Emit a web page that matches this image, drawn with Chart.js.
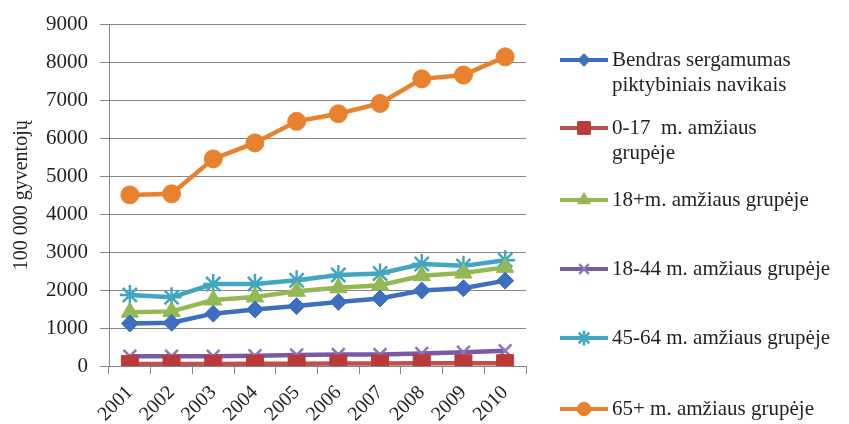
<!DOCTYPE html>
<html>
<head>
<meta charset="utf-8">
<script src="https://cdn.jsdelivr.net/npm/chart.js@4.4.1/dist/chart.umd.min.js"></script>
<style>
html,body{margin:0;padding:0;background:#fff;}
#wrap{width:849px;height:424px;position:relative;}
</style>
</head>
<body>
<div id="wrap"><canvas id="c" width="849" height="424"></canvas></div>
<script>
const years = ['2001','2002','2003','2004','2005','2006','2007','2008','2009','2010'];
const yTicks = [0,1000,2000,3000,4000,5000,6000,7000,8000,9000];
const total = [1120,1140,1380,1490,1580,1690,1780,1990,2050,2250];
const age0_17 = [55,55,55,60,60,65,65,70,70,75];
const age18plus = [1420,1440,1740,1820,1970,2060,2130,2380,2450,2600];
const age18_44 = [260,260,260,270,290,300,300,330,360,400];
const age45_64 = [1870,1810,2160,2160,2260,2400,2440,2690,2640,2790];
const age65plus = [4510,4540,5460,5880,6450,6650,6920,7570,7670,8150];
const seriesNames = [
  ['Bendras sergamumas','piktybiniais navikais'],
  ['0-17  m. amžiaus','grupėje'],
  ['18+m. amžiaus grupėje'],
  ['18-44 m. amžiaus grupėje'],
  ['45-64 m. amžiaus grupėje'],
  ['65+ m. amžiaus grupėje']
];
const yTitle = '100 000 gyventojų';

const FONT = '"Liberation Serif", "Times New Roman", serif';

function ds(label, data, color, ptColor, style, radius, bw) {
  return {
    label: label, data: data,
    borderColor: color, backgroundColor: ptColor,
    pointBorderColor: ptColor, pointBackgroundColor: ptColor,
    pointStyle: style, pointRadius: radius, pointHoverRadius: radius,
    pointBorderWidth: bw, borderWidth: 4.5, tension: 0, fill: false
  };
}

const datasets = [
  ds(seriesNames[0].join(' '), total, '#3d6fbf', '#3d6fbf', 'rectRot', 8.5, 1),
  ds(seriesNames[1].join(' '), age0_17, '#c0504d', '#b93a37', 'rect', 12, 1),
  ds(seriesNames[2].join(' '), age18plus, '#93b854', '#93b854', 'triangle', 10, 1),
  ds(seriesNames[3].join(' '), age18_44, '#7a5aa6', '#8f76b8', 'crossRot', 9, 2.5),
  ds(seriesNames[4].join(' '), age45_64, '#41a6c2', '#41a6c2', 'star', 10, 2.5),
  ds(seriesNames[5].join(' '), age65plus, '#e8822e', '#e8822e', 'circle', 9, 1)
];

const legendY = [60, 128, 200, 269, 338, 409];

const customLegend = {
  id: 'customLegend',
  afterDraw(chart) {
    const ctx = chart.ctx;
    ctx.save();
    chart.data.datasets.forEach((d, i) => {
      const y = legendY[i];
      ctx.strokeStyle = d.borderColor;
      ctx.lineWidth = 4;
      ctx.beginPath();
      ctx.moveTo(560, y);
      ctx.lineTo(608, y);
      ctx.stroke();
      ctx.fillStyle = d.pointBackgroundColor;
      ctx.strokeStyle = d.pointBorderColor;
      ctx.lineWidth = d.pointBorderWidth;
      Chart.helpers.drawPoint(ctx, {pointStyle: d.pointStyle, radius: d.pointRadius * 0.75, borderWidth: d.pointBorderWidth, rotation: 0}, 584, y);
      ctx.fillStyle = '#231f20';
      ctx.font = '21px ' + FONT;
      ctx.textBaseline = 'middle';
      ctx.textAlign = 'left';
      seriesNames[i].forEach((t, k) => ctx.fillText(t, 612, y + k * 25));
    });
    ctx.restore();
  }
};

new Chart(document.getElementById('c'), {
  type: 'line',
  data: { labels: years, datasets: datasets },
  options: {
    responsive: false,
    animation: false,
    layout: { padding: { top: 23, right: 323, left: 0, bottom: 0 } },
    plugins: { legend: { display: false }, tooltip: { enabled: false } },
    scales: {
      x: {
        offset: true,
        afterFit(s) { s.height = 58; },
        grid: { offset: true, drawOnChartArea: false, drawTicks: true, tickLength: 8, color: '#868686' },
        border: { color: '#868686', width: 1 },
        ticks: { minRotation: 45, maxRotation: 45, padding: 7, color: '#231f20', font: { family: FONT, size: 20 } }
      },
      y: {
        min: 0, max: 9000,
        afterFit(s) { s.width = 109; },
        afterBuildTicks(s) { s.ticks = yTicks.map(v => ({ value: v })); },
        grid: { color: '#868686', tickLength: 9, lineWidth: 1 },
        border: { color: '#868686', width: 1 },
        ticks: { padding: 12, color: '#231f20', font: { family: FONT, size: 21 }, callback: v => String(v) },
        title: { display: true, text: yTitle, color: '#231f20', font: { family: FONT, size: 20 }, padding: { top: 10, bottom: 0 } }
      }
    }
  },
  plugins: [customLegend]
});
</script>
</body>
</html>
